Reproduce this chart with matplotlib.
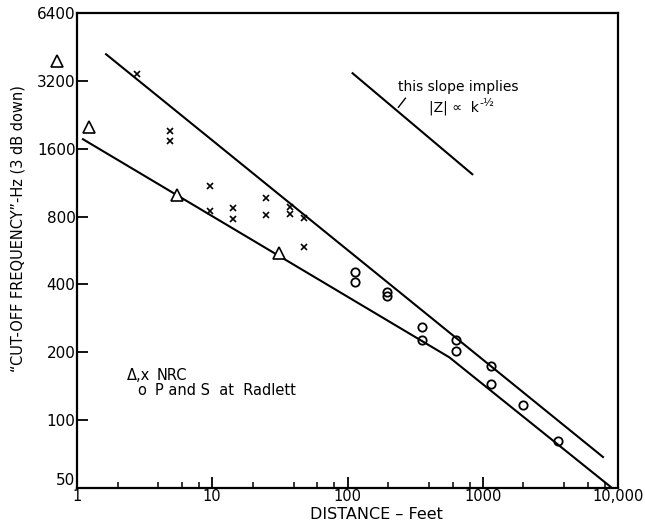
import numpy as np
import matplotlib.pyplot as plt
from matplotlib.ticker import FixedLocator, NullFormatter
from matplotlib.transforms import offset_copy

plt.rcParams['font.family'] = ['DejaVu Sans']

# NRC measurements (triangles and crosses)
tri_dist = [0.71, 1.23, 5.47, 31.0]
tri_freq = [3900, 2000, 1000, 550]

x_dist = [2.8, 4.9, 4.9, 9.6, 9.6, 14.2, 14.2, 24.8, 24.8, 37.3, 37.3, 48.0, 48.0]
x_freq = [3420, 1910, 1730, 1090, 845, 870, 780, 965, 810, 880, 820, 787, 585]

# P and S at Radlett (circles)
circ_dist = [113, 113, 197, 197, 357, 357, 637, 637, 1156, 1156, 1991, 3607]
circ_freq = [453, 410, 370, 355, 259, 227, 227, 203, 174, 145, 117, 81]

# fitted lines
upper_dist = [1.64, 7750]
upper_freq = [4200, 68.6]
lower_dist = [1.107, 566, 9036]
lower_freq = [1763, 190, 50]
slope_dist = [109, 837]
slope_freq = [3459, 1233]

y_ticks = [50, 100, 200, 400, 800, 1600, 3200, 6400]
x_ticks = [1, 10, 100, 1000, 10000]
x_ticklabels = ['1', '10', '100', '1000', '10,000']
x_minor = [m * 10**e for e in range(4) for m in (2, 4, 6, 8)]

fig = plt.figure(figsize=(6.45, 5.32), dpi=100)
ax = fig.add_axes([77/645, 44/532, 541/645, 475/532])

ax.set_xscale('log')
ax.set_yscale('log', base=2)
ax.set_xlim(1, 10000)
ax.set_ylim(50, 6400)

ax.plot(upper_dist, upper_freq, color='k', lw=1.5)
ax.plot(lower_dist, lower_freq, color='k', lw=1.5)
ax.plot(slope_dist, slope_freq, color='k', lw=1.5)

ax.plot(tri_dist, tri_freq, ls='none', marker='^', ms=8, mfc='white',
        mec='k', mew=1.2, clip_on=False)
ax.plot(x_dist, x_freq, ls='none', marker='x', ms=4, color='k', mew=1.2)
ax.plot(circ_dist, circ_freq, ls='none', marker='o', ms=6, mfc='none',
        mec='k', mew=1.3)

# slope note
ax.text(659, 3000, 'this slope implies', fontsize=10, ha='center', va='center')
ax.text(942, 2420, '|Z| ∝  k', fontsize=10, ha='right', va='center')
ax.text(942, 2420, '-½', fontsize=8, ha='left', va='center',
        transform=offset_copy(ax.transData, fig=fig, x=0, y=5, units='dots'))
ax.plot([238, 268], [2444, 2680], color='k', lw=1)

# key
ax.text(2.34, 158, 'Δ,x', fontsize=10.5, va='center')
ax.text(3.9, 158, 'NRC', fontsize=10.5, va='center')
ax.text(2.77, 136, 'o', fontsize=10.5, va='center')
ax.text(3.75, 136, 'P and S  at  Radlett', fontsize=10.5, va='center')

ax.yaxis.set_major_locator(FixedLocator(y_ticks))
ax.set_yticklabels([str(v) for v in y_ticks])
ax.yaxis.set_minor_locator(FixedLocator([]))
ax.xaxis.set_major_locator(FixedLocator(x_ticks))
ax.set_xticklabels(x_ticklabels)
ax.xaxis.set_minor_locator(FixedLocator(x_minor))
ax.xaxis.set_minor_formatter(NullFormatter())

ax.tick_params(axis='y', which='major', direction='in', length=8, width=1.3,
               labelsize=11, pad=1)
ax.tick_params(axis='x', which='major', direction='in', length=8, width=1.3,
               labelsize=10.5, pad=1)
ax.tick_params(axis='x', which='minor', direction='in', length=4, width=1.1)
# lowest y label sits just above the corner, clear of the "1"
ax.get_yticklabels()[0].set_va('bottom')

for s in ax.spines.values():
    s.set_linewidth(1.6)

ax.set_xlabel('DISTANCE – Feet', fontsize=11.5)
ax.xaxis.set_label_coords(299/541, -0.04)
ax.set_ylabel('“CUT-OFF FREQUENCY”-Hz (3 dB down)', fontsize=10.5)
ax.yaxis.set_label_coords(-0.095, 0.547)

fig.savefig('out.png', dpi=100)
